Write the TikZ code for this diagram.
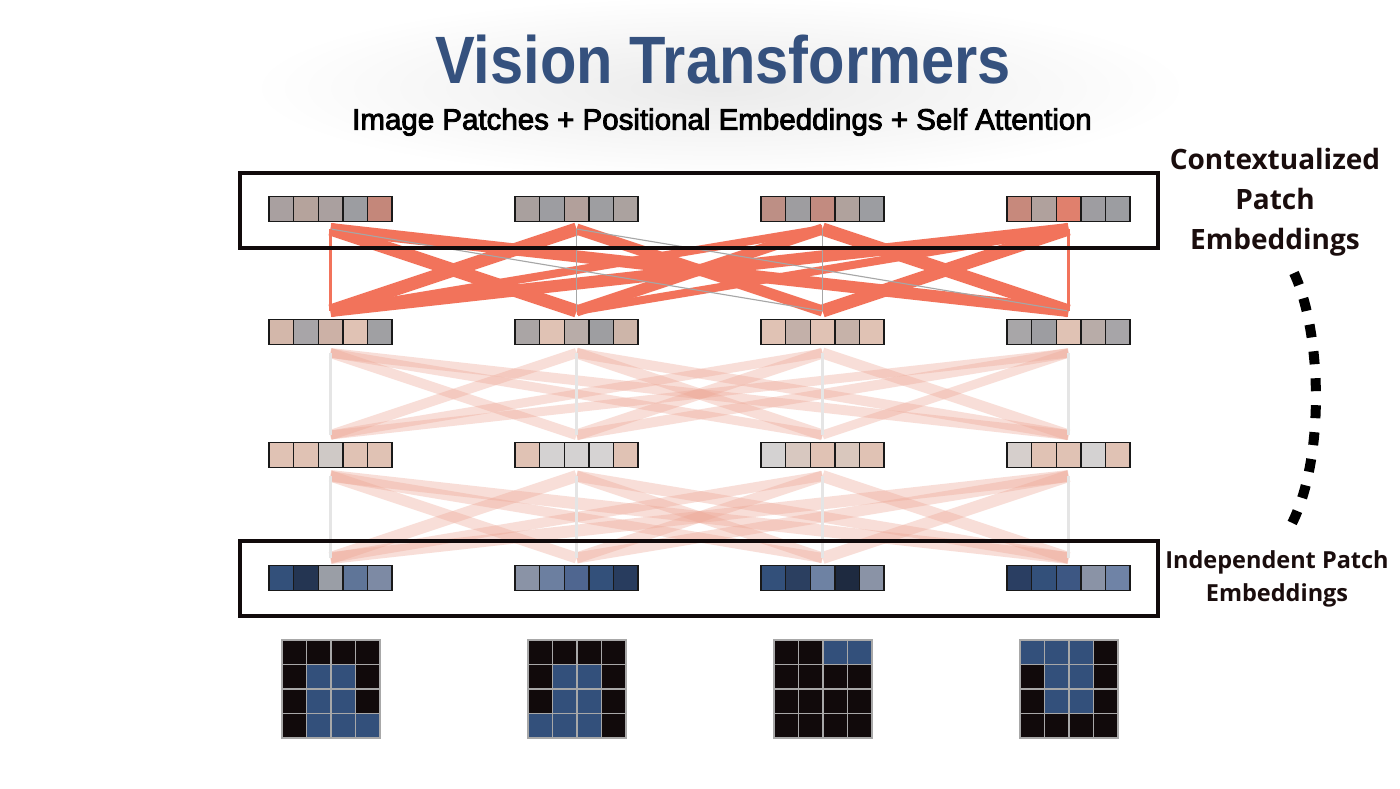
\documentclass[tikz,border=0pt]{standalone}
\usepackage{fontspec}
\newfontfamily\titlefont{Liberation Sans}
\newfontfamily\subfont{Liberation Sans}[FakeBold=3]
\newfontfamily\labfont{Open Sans}
\definecolor{titleblue}{HTML}{35517E}
\definecolor{strongc}{HTML}{F2735B}
\definecolor{palec}{HTML}{EDA593}
\definecolor{pixblack}{HTML}{110A0B}
\definecolor{pixblue}{HTML}{33507B}
\definecolor{gridgrey}{HTML}{A8A8A8}
\definecolor{labblack}{HTML}{1A0D0D}
\newcommand\embrow[4]{%
  \foreach \hx [count=\i] in {#4} {
    \definecolor{tmpc}{HTML}{\hx}
    \node[cell, fill=tmpc] (e#1g#3c\i) at ({269+246*(#3-1)+24.6*(\i-0.5)},#2) {};
  }}
\newcommand\attlayer[3]{%
  \foreach \g in {1,...,4} {
    \coordinate (#1t\g) at ({330.5+246*(\g-1)},#2);
    \coordinate (#1b\g) at ({330.5+246*(\g-1)},#3);
  }}
\newcommand\pixgrid[2]{%
  \foreach \v [count=\k from 0] in {#2} {
    \pgfmathtruncatemacro\pr{\k/4}
    \pgfmathtruncatemacro\pc{mod(\k,4)}
    \ifnum\v=1 \def\pcol{pixblue}\else\def\pcol{pixblack}\fi
    \node[pix, fill=\pcol] (p#1r\pr c\pc) at ({282+246*(#1-1)+24.5*(\pc+0.5)},{640+24.5*(\pr+0.5)}) {};
  }}
\begin{document}
\begin{tikzpicture}[x=1pt,y=-1pt,
  cell/.style={draw=black!90, line width=1.4pt, minimum size=24.6pt, inner sep=0pt, outer sep=0pt},
  pix/.style={draw=gridgrey, line width=1.2pt, minimum size=24.5pt, inner sep=0pt, outer sep=0pt},
  strong/.style={draw=strongc, line cap=butt},
  thinline/.style={draw=black!35, line width=1.1pt},
  pale/.style={draw=palec, draw opacity=0.36, line cap=butt},
  palev/.style={draw=black!10, line width=2.2pt},
  bigbox/.style={draw=pixblack, line width=4pt, minimum width=918pt, minimum height=75pt, inner sep=0pt},
  dotcurve/.style={draw=black, line width=10pt, dash pattern=on 13pt off 14pt},
]
\useasboundingbox (0,0) rectangle (1400,788);
\fill[white] (0,0) rectangle (1400,788);
\shade[inner color=black!8, outer color=white] (720,88) ellipse [x radius=470pt, y radius=92pt];

% title
\node[font=\titlefont\bfseries\fontsize{67}{70}\selectfont, text=titleblue] (title) at (723,60) {\scalebox{0.89}[1]{Vision Transformers}};
\node[font=\subfont\fontsize{29.5}{32}\selectfont, text=black] (subtitle) at (722,122) {Image Patches + Positional Embeddings + Self Attention};

% attention layers
\attlayer{A}{229}{311}
\attlayer{M}{353}{435}
\attlayer{L}{476}{558}

% top layer (strong)
\foreach \i/\j/\w in {1/2/13,2/1/13,1/4/12,4/1/12,3/4/13,4/3/13,2/3/11,3/2/11,3/1/8,4/2/8}
  \draw[strong, line width=\w pt] (At\i) -- (Ab\j);
\draw[thinline] (At1) -- (Ab3);
\draw[thinline] (At2) -- (Ab4);
\draw[strong, line width=3pt] (At1) -- (Ab1);
\draw[strong, line width=3pt] (At4) -- (Ab4);
\draw[thinline, line width=1.6pt] (At2) -- (Ab2);
\draw[thinline, line width=1.6pt] (At3) -- (Ab3);

% middle layer (pale)
\foreach \i/\j/\w in {1/2/10,2/1/10,1/3/9,3/1/9,1/4/10,4/1/9,2/3/11,3/2/11,2/4/10,4/2/10,3/4/11,4/3/9}
  \draw[pale, line width=\w pt] (Mt\i) -- (Mb\j);
\foreach \g in {1,...,4} \draw[palev] (Mt\g) -- (Mb\g);

% bottom layer (pale)
\foreach \i/\j/\w in {1/2/11,2/1/12,1/3/10,3/1/10,1/4/12,4/1/12,2/3/11,3/2/11,2/4/11,4/2/11,3/4/12,4/3/12}
  \draw[pale, line width=\w pt] (Lt\i) -- (Lb\j);
\foreach \g in {1,...,4} \draw[palev] (Lt\g) -- (Lb\g);

% boxes
\node[bigbox] (topbox) at (699,210) {};
\node[bigbox] (botbox) at (699,578.5) {};

% embedding rows
\embrow{a}{209}{1}{A9A0A0,B5A39C,AAA09F,9C9DA1,C4877A}
\embrow{a}{209}{2}{A9A09E,9D9DA1,B2A09B,9E9EA1,ABA29F}
\embrow{a}{209}{3}{BD8F85,9E9DA0,C28B80,B0A29D,9C9DA1}
\embrow{a}{209}{4}{C7897C,B0A19D,E0806D,9E9DA1,9C9DA1}

\embrow{b}{332}{1}{D3B7AA,A8A5A8,CCB1A6,E0C2B4,A0A0A3}
\embrow{b}{332}{2}{AAA5A5,E0C2B4,B8ACA8,9E9EA1,CDB5A9}
\embrow{b}{332}{3}{E0C2B4,C3B0A9,E0C2B4,C6B2A9,E0C2B4}
\embrow{b}{332}{4}{A8A6A8,9D9DA1,E0C2B4,B8ACA8,A7A5A8}

\embrow{c}{455}{1}{E0C2B4,E0C2B4,CFC9C6,E0C2B4,E0C2B4}
\embrow{c}{455}{2}{E0C2B4,D4D2D2,D4D2D2,D6D3D3,E0C2B4}
\embrow{c}{455}{3}{D4D2D2,D8C8C0,E0C2B4,D9C7BD,E0C2B4}
\embrow{c}{455}{4}{D6CFCC,E0C2B4,E0C2B4,D4D2D2,E0C2B4}

\embrow{d}{578}{1}{33507A,243552,9A9EA6,5F7598,7D8AA4}
\embrow{d}{578}{2}{8A93A6,6C7FA0,4F6690,33507A,283C5E}
\embrow{d}{578}{3}{33507A,2B3F60,6E82A3,1E2A40,8A93A6}
\embrow{d}{578}{4}{2A3E62,33507A,3D5783,8A93A6,6F83A6}

% pixel grids
\pixgrid{1}{0,0,0,0, 0,1,1,0, 0,1,1,0, 0,1,1,1}
\pixgrid{2}{0,0,0,0, 0,1,1,0, 0,1,1,0, 1,1,1,0}
\pixgrid{3}{0,0,1,1, 0,0,0,0, 0,0,0,0, 0,0,0,0}
\pixgrid{4}{1,1,1,0, 0,1,1,0, 0,1,1,0, 0,0,0,0}

% right labels
\node[font=\labfont\bfseries\fontsize{28}{40}\selectfont, text=labblack, align=center] (ctxlab) at (1275,202) {Contextualized\\Patch\\Embeddings};
\node[font=\labfont\bfseries\fontsize{23.5}{33}\selectfont, text=labblack, align=center] (indlab) at (1277,579) {Independent Patch\\Embeddings};

\coordinate (cs) at (1294,273);
\coordinate (ce) at (1286,534);
\draw[dotcurve] (cs) .. controls (1323,335) and (1326,470) .. (ce);
\end{tikzpicture}
\end{document}
